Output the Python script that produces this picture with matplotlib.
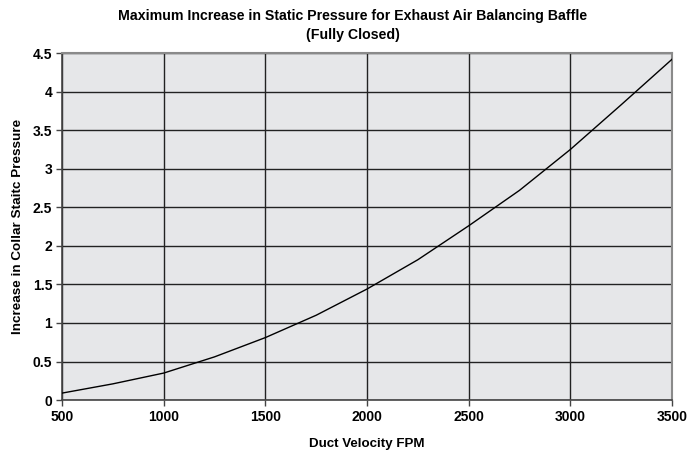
import numpy as np
import matplotlib
matplotlib.use("Agg")
import matplotlib.pyplot as plt

# duct velocity (FPM) vs increase in collar static pressure
velocity = [500, 750, 1000, 1250, 1500, 1750, 2000, 2250, 2500, 2750, 3000, 3250, 3500]
pressure = [0.09, 0.21, 0.35, 0.56, 0.81, 1.10, 1.44, 1.82, 2.26, 2.72, 3.25, 3.83, 4.42]

x_ticks = [500, 1000, 1500, 2000, 2500, 3000, 3500]
y_ticks = [0, 0.5, 1, 1.5, 2, 2.5, 3, 3.5, 4, 4.5]
y_labels = ["0", "0.5", "1", "1.5", "2", "2.5", "3", "3.5", "4", "4.5"]

plt.rcParams["font.family"] = ["Liberation Sans", "DejaVu Sans"]
plt.rcParams["font.weight"] = "bold"

fig = plt.figure(figsize=(6.99, 4.5), dpi=100)
ax = fig.add_axes([0.0887, 0.111, 0.8727, 0.771])
ax.set_facecolor("#e6e7e9")

ax.plot(velocity, pressure, color="black", lw=1.0, zorder=3)

ax.set_xlim(500, 3500)
ax.set_ylim(0, 4.5)
ax.set_xticks(x_ticks)
ax.set_yticks(y_ticks)
ax.set_yticklabels(y_labels)
ax.grid(True, color="#222222", lw=1.0, zorder=1)
ax.set_axisbelow(True)
ax.tick_params(direction="out", length=4, width=1, color="#444444",
               labelsize=10, pad=3)
for side in ("top", "right"):
    ax.spines[side].set_color("#8a8a8a")
    ax.spines[side].set_linewidth(1.5)
for side in ("left", "bottom"):
    ax.spines[side].set_color("#444444")
    ax.spines[side].set_linewidth(1.2)

ax.set_xlabel("Duct Velocity FPM", fontsize=9.6, fontweight="bold", labelpad=10)
ax.set_ylabel("Increase in Collar Staitc Pressure", fontsize=9.7,
              fontweight="bold", labelpad=6)

fig.text(0.505, 0.965, "Maximum Increase in Static Pressure for Exhaust Air Balancing Baffle",
         ha="center", va="center", fontsize=10.2, fontweight="bold")
fig.text(0.505, 0.922, "(Fully Closed)", ha="center", va="center",
         fontsize=10.2, fontweight="bold")

fig.savefig("out.png", dpi=100)
